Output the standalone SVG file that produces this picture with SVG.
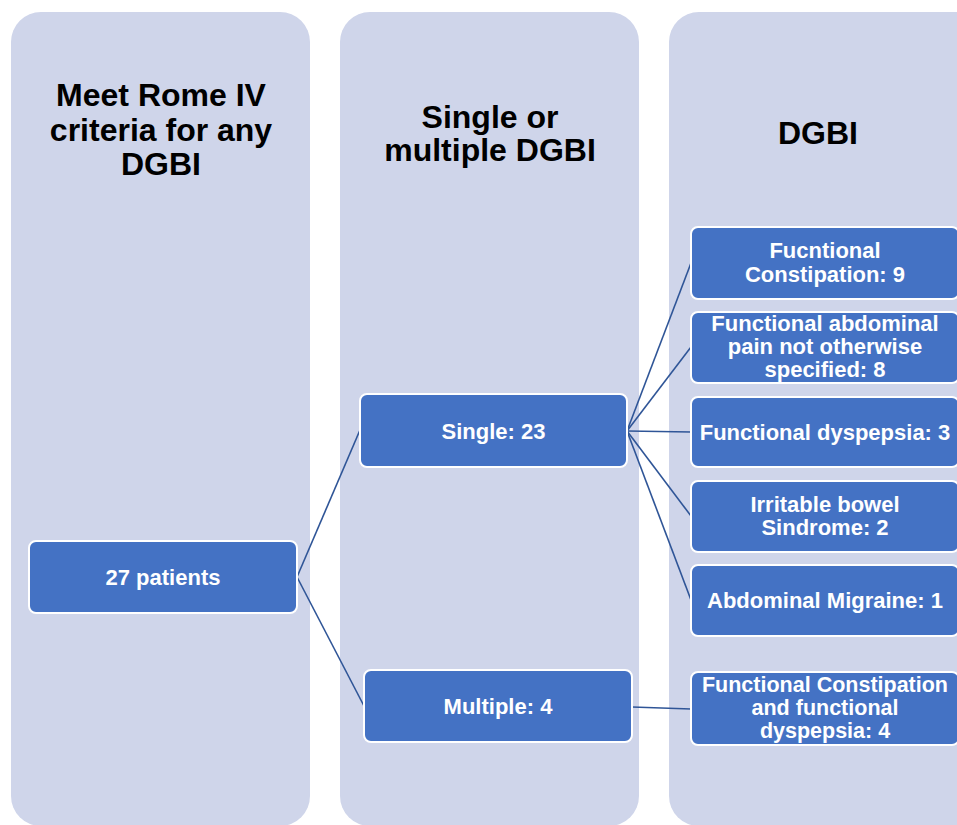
<svg xmlns="http://www.w3.org/2000/svg" width="957" height="825" viewBox="0 0 957 825">
<style>
.col{fill:#CFD5EA}
.hdr{font-family:"Liberation Sans",Arial,sans-serif;font-weight:bold;font-size:32px;fill:#000;text-anchor:middle}
.box{fill:#4472C4;stroke:#FFFFFF;stroke-width:2}
.lbl{font-family:"Liberation Sans",Arial,sans-serif;font-weight:bold;font-size:22px;fill:#FFFFFF;text-anchor:middle}
.sm{font-size:21.5px}
.conn{fill:none;stroke:#2F5597;stroke-width:1.6}
</style>
<rect width="957" height="825" fill="#FFFFFF"/>
<g id="col1">
<rect class="col" x="11" y="12" width="299" height="814" rx="30"/>
<text class="hdr" x="161" y="106">Meet Rome IV</text>
<text class="hdr" x="161" y="140.5">criteria for any</text>
<text class="hdr" x="161" y="175">DGBI</text>
</g>
<g id="col2">
<rect class="col" x="340" y="12" width="299" height="814" rx="30"/>
<text class="hdr" x="490" y="128">Single or</text>
<text class="hdr" x="490" y="161">multiple DGBI</text>
</g>
<g id="col3">
<rect class="col" x="669" y="12" width="330" height="814" rx="30"/>
<text class="hdr" x="818" y="144">DGBI</text>
</g>
<g id="connectors">
<line class="conn" x1="297" y1="577" x2="360" y2="430"/>
<line class="conn" x1="297" y1="577" x2="364" y2="706"/>
<line class="conn" x1="627" y1="431" x2="691" y2="263"/>
<line class="conn" x1="627" y1="431" x2="691" y2="347"/>
<line class="conn" x1="627" y1="431" x2="691" y2="432"/>
<line class="conn" x1="627" y1="431" x2="691" y2="516"/>
<line class="conn" x1="627" y1="431" x2="691" y2="600"/>
<line class="conn" x1="632" y1="707" x2="691" y2="709"/>
</g>
<g id="n-patients">
<rect class="box" x="29" y="541" width="268" height="72" rx="7"/>
<text class="lbl" x="163" y="585">27 patients</text>
</g>
<g id="n-single">
<rect class="box" x="360" y="394" width="267" height="73" rx="7"/>
<text class="lbl" x="493.5" y="438.5">Single: 23</text>
</g>
<g id="n-multiple">
<rect class="box" x="364" y="670" width="268" height="72" rx="7"/>
<text class="lbl" x="498" y="714">Multiple: 4</text>
</g>
<g id="n-fc">
<rect class="box" x="691" y="227" width="268" height="72" rx="7"/>
<text class="lbl" x="825" y="258">Fucntional</text>
<text class="lbl" x="825" y="282">Constipation: 9</text>
</g>
<g id="n-fap">
<rect class="box" x="691" y="312" width="268" height="71" rx="7"/>
<text class="lbl" x="825" y="331">Functional abdominal</text>
<text class="lbl" x="825" y="354">pain not otherwise</text>
<text class="lbl" x="825" y="377">specified: 8</text>
</g>
<g id="n-fd">
<rect class="box" x="691" y="397" width="268" height="70" rx="7"/>
<text class="lbl" x="825" y="440">Functional dyspepsia: 3</text>
</g>
<g id="n-ibs">
<rect class="box" x="691" y="481" width="268" height="71" rx="7"/>
<text class="lbl" x="825" y="511.5">Irritable bowel</text>
<text class="lbl" x="825" y="534.5">Sindrome: 2</text>
</g>
<g id="n-am">
<rect class="box" x="691" y="565" width="268" height="71" rx="7"/>
<text class="lbl" x="825" y="608">Abdominal Migraine: 1</text>
</g>
<g id="n-fcfd">
<rect class="box" x="691" y="672" width="268" height="73" rx="7"/>
<text class="lbl sm" x="825" y="692">Functional Constipation</text>
<text class="lbl sm" x="825" y="715">and functional</text>
<text class="lbl sm" x="825" y="738">dyspepsia: 4</text>
</g>
</svg>
